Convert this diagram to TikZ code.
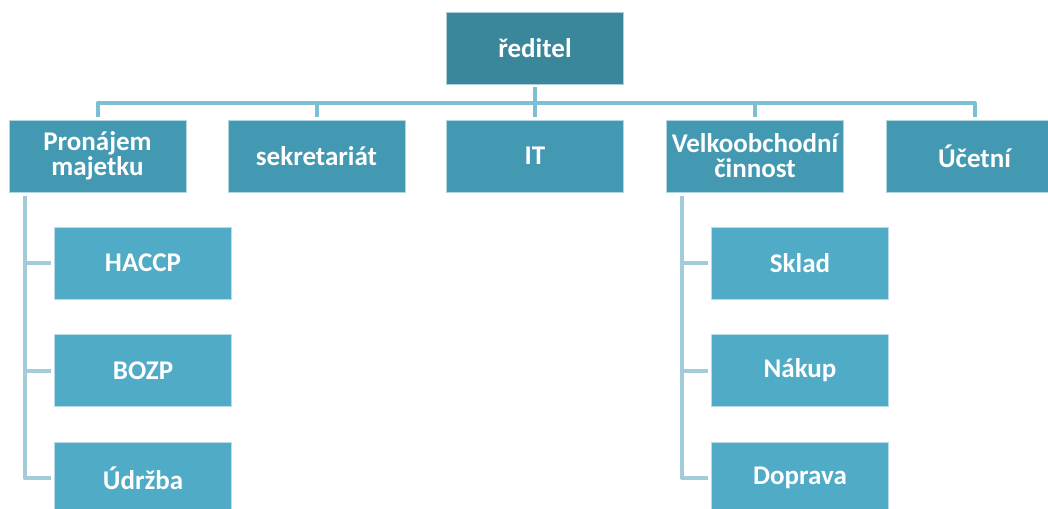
\documentclass[tikz,border=0pt]{standalone}
\usepackage{fontspec}
\setmainfont{Carlito}
\definecolor{bossc}{HTML}{3A879B}
\definecolor{midc}{HTML}{4499B2}
\definecolor{childc}{HTML}{4FABC6}
\definecolor{busc}{HTML}{7CBED2}
\definecolor{subc}{HTML}{A3CCDA}
\tikzset{
  orgbox/.style={rectangle, minimum width=177pt, minimum height=72pt, inner sep=0pt,
    align=center, text=white, font=\bfseries\fontsize{27}{25}\selectfont,
    draw=white!60!#1, line width=0.6pt, fill=#1},
  busline/.style={draw=busc, line width=4pt, line join=round},
  subline/.style={draw=subc, line width=4pt, line join=round}
}
\begin{document}
\begin{tikzpicture}[x=1pt,y=-1pt]
\useasboundingbox (0,0) rectangle (1048,508);
\node[orgbox=bossc] (boss) at (535,48) {ředitel};
\node[orgbox=midc] (p1) at (97.5,156) {Pronájem\\majetku};
\node[orgbox=midc] (p2) at (316.5,156) {sekretariát};
\node[orgbox=midc] (p3) at (535,156) {IT};
\node[orgbox=midc] (p4) at (755,156) {Velkoobchodní\\činnost};
\node[orgbox=midc] (p5) at (974.5,156) {Účetní};
\node[orgbox=childc] (c1) at (143,263) {HACCP};
\node[orgbox=childc] (c2) at (143,370.5) {BOZP};
\node[orgbox=childc] (c3) at (143,478) {Údržba};
\node[orgbox=childc] (d1) at (800,263) {Sklad};
\node[orgbox=childc] (d2) at (800,370.5) {Nákup};
\node[orgbox=childc] (d3) at (800,478) {Doprava};
\coordinate (bus) at (535,103);
\draw[busline, shorten <=3pt] (boss.south) -- (bus);
\draw[busline, shorten <=3pt, shorten >=3pt] (p1.north) |- (bus) -| (p5.north);
\draw[busline, shorten <=3pt] (p2.north) -- (p2.north |- bus);
\draw[busline, shorten <=3pt] (p3.north) -- (bus);
\draw[busline, shorten <=3pt] (p4.north) -- (p4.north |- bus);
\coordinate (l1) at ([xshift=16pt,yshift=-4pt]p1.south west);
\coordinate (l2) at ([xshift=16pt,yshift=-4pt]p4.south west);
\draw[subline, shorten >=3pt] (l1) |- (c3.west);
\draw[subline, shorten >=3pt] (l1) |- (c1.west);
\draw[subline, shorten >=3pt] (l1) |- (c2.west);
\draw[subline, shorten >=3pt] (l2) |- (d3.west);
\draw[subline, shorten >=3pt] (l2) |- (d1.west);
\draw[subline, shorten >=3pt] (l2) |- (d2.west);
\end{tikzpicture}
\end{document}
